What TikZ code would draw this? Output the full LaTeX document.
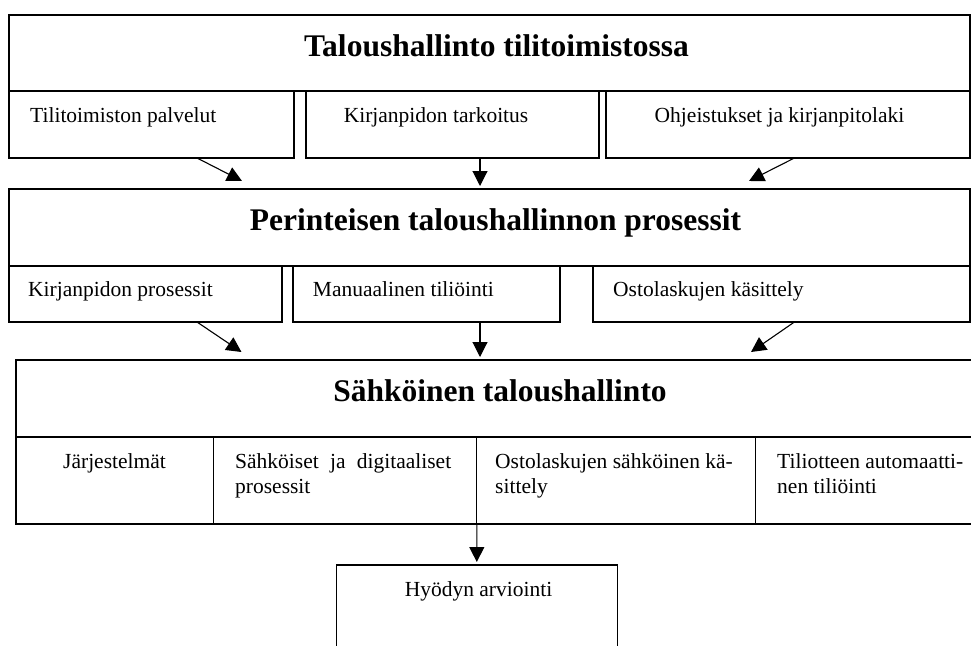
\documentclass[tikz,border=0pt]{standalone}
\usepackage{fontspec}
\setmainfont{Liberation Serif}
\usetikzlibrary{arrows.meta}
\begin{document}
\begin{tikzpicture}[x=1pt,y=1pt,
  frame/.style={draw, line width=1.1pt, inner sep=0pt, outer sep=0pt, anchor=north west},
  headtext/.style={inner sep=0pt, anchor=base, font=\fontsize{31.5}{36}\selectfont\bfseries},
  itemtext/.style={inner sep=0pt, anchor=base west, font=\fontsize{21.5}{25}\selectfont},
  flow/.style={line width=1.1pt, -{Triangle[length=15pt,width=15pt]}}]
\useasboundingbox (0,0) rectangle (971,-645);
\clip (0,0) rectangle (971,-645);

% level 1: accounting office
\node[frame, minimum width=961pt, minimum height=76pt] (top) at (9,-15) {};
\node[headtext] (topT) at (496.5,-56) {Taloushallinto tilitoimistossa};
\node[frame, minimum width=285pt, minimum height=67pt] (a1) at (9,-91) {};
\node[frame, minimum width=293pt, minimum height=67pt] (a2) at (306,-91) {};
\node[frame, minimum width=364pt, minimum height=67pt] (a3) at (606,-91) {};
\node[itemtext] (a1T) at (30,-122) {Tilitoimiston palvelut};
\node[itemtext] (a2T) at (343.6,-122) {Kirjanpidon tarkoitus};
\node[itemtext] (a3T) at (654.5,-122) {Ohjeistukset ja kirjanpitolaki};

% level 2: traditional processes
\node[frame, minimum width=961pt, minimum height=77pt] (mid) at (9,-189) {};
\node[headtext] (midT) at (495.5,-230) {Perinteisen taloushallinnon prosessit};
\node[frame, minimum width=273pt, minimum height=56pt] (b1) at (9,-266) {};
\node[frame, minimum width=267pt, minimum height=56pt] (b2) at (293,-266) {};
\node[frame, minimum width=377pt, minimum height=56pt] (b3) at (593,-266) {};
\node[itemtext] (b1T) at (28,-296.7) {Kirjanpidon prosessit};
\node[itemtext] (b2T) at (312.7,-296.7) {Manuaalinen tiliöinti};
\node[itemtext] (b3T) at (613,-296.7) {Ostolaskujen käsittely};

% level 3: electronic accounting
\node[frame, minimum width=956pt, minimum height=77pt] (low) at (16,-360) {};
\node[headtext] (lowT) at (500,-401) {Sähköinen taloushallinto};
\node[frame, minimum width=197.6pt, minimum height=87pt] (c1) at (16,-437) {};
\node[frame, minimum width=263.2pt, minimum height=87pt] (c2) at (213.6,-437) {};
\node[frame, minimum width=278.6pt, minimum height=87pt] (c3) at (476.8,-437) {};
\node[frame, minimum width=216.6pt, minimum height=87pt] (c4) at (755.4,-437) {};
\node[itemtext] (c1T) at (63,-468) {Järjestelmät};
\node[itemtext] (c2T) at (235,-468) {\parbox[t]{216pt}{\fontsize{21.5}{25}\selectfont\makebox[216pt][s]{Sähköiset ja digitaaliset}\\prosessit}};
\node[itemtext] (c3T) at (495,-468) {\parbox[t]{240pt}{\fontsize{21.5}{25}\selectfont Ostolaskujen sähköinen kä-\\sittely}};
\node[itemtext] (c4T) at (777,-468) {\parbox[t]{192pt}{\fontsize{21.5}{25}\selectfont Tiliotteen automaatti-\\nen tiliöinti}};

% level 4: evaluation
\node[frame, minimum width=281pt, minimum height=100pt] (hy) at (336.3,-565) {};
\node[inner sep=0pt, anchor=base, font=\fontsize{21.5}{25}\selectfont] (hyT) at (478.5,-596.7) {Hyödyn arviointi};

% connectors
\draw[flow] ([xshift=45.5pt]a1.south) -- ([xshift=-247.5pt,yshift=8pt]mid.north);
\draw[flow] ([xshift=27.5pt]a2.south) -- ([xshift=-9.5pt,yshift=3pt]mid.north);
\draw[flow] ([xshift=6.4pt]a3.south) -- ([xshift=259.5pt,yshift=8pt]mid.north);
\draw[flow] ([xshift=51.5pt]b1.south) -- ([xshift=-252.5pt,yshift=8pt]low.north);
\draw[flow] ([xshift=53.5pt]b2.south) -- ([xshift=-14pt,yshift=3pt]low.north);
\draw[flow] ([xshift=12.9pt]b3.south) -- ([xshift=257pt,yshift=8pt]low.north);
\draw[flow] (c2.south east) -- ([yshift=3pt]hy.north);
\end{tikzpicture}
\end{document}
